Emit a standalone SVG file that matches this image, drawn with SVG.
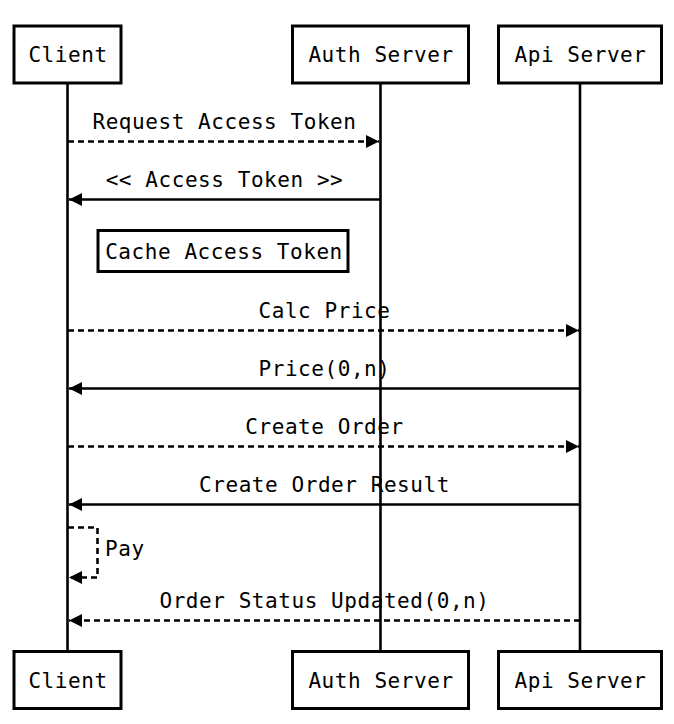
<svg xmlns="http://www.w3.org/2000/svg" width="674" height="724" viewBox="0 0 674 724">
<style>
.box{fill:#fff;stroke:#000;stroke-width:3}
.life{stroke:#000;stroke-width:2.6;fill:none}
.msg{stroke:#000;stroke-width:2.6;fill:none}
.dash{stroke-dasharray:6,4}
text{font-family:"DejaVu Sans Mono","Liberation Mono",monospace;font-size:21px;letter-spacing:0.56px;fill:#000}
.c{text-anchor:middle}
</style>
<defs>
<marker id="ah" markerUnits="userSpaceOnUse" markerWidth="14" markerHeight="14" refX="13" refY="6.5" orient="auto">
<path d="M0,0 L13,6.5 L0,13 Z" fill="#000" stroke="none"/>
</marker>
</defs>
<rect width="674" height="724" fill="#fff"/>
<g id="lifelines">
<line class="life" x1="67.5" y1="84" x2="67.5" y2="651"/>
<line class="life" x1="380.5" y1="84" x2="380.5" y2="651"/>
<line class="life" x1="580" y1="84" x2="580" y2="651"/>
</g>
<g id="client-top"><rect class="box" x="14" y="26" width="107" height="57"/><text class="c" x="68" y="62">Client</text></g>
<g id="auth-top"><rect class="box" x="292.5" y="26" width="176" height="57"/><text class="c" x="381" y="62">Auth Server</text></g>
<g id="api-top"><rect class="box" x="498.5" y="26" width="163" height="57"/><text class="c" x="580.5" y="62">Api Server</text></g>
<g id="client-bottom"><rect class="box" x="14" y="651.5" width="107" height="57"/><text class="c" x="68" y="688">Client</text></g>
<g id="auth-bottom"><rect class="box" x="292.5" y="651.5" width="176" height="57"/><text class="c" x="381" y="688">Auth Server</text></g>
<g id="api-bottom"><rect class="box" x="498.5" y="651.5" width="163" height="57"/><text class="c" x="580.5" y="688">Api Server</text></g>
<g id="note"><rect class="box" x="98" y="230.5" width="250" height="41"/><text class="c" x="224" y="259">Cache Access Token</text></g>
<g id="connectors">
<line class="msg dash" x1="68" y1="141.5" x2="379" y2="141.5" marker-end="url(#ah)"/>
<line class="msg" x1="380" y1="199.5" x2="69" y2="199.5" marker-end="url(#ah)"/>
<line class="msg dash" x1="68" y1="330.5" x2="579" y2="330.5" marker-end="url(#ah)"/>
<line class="msg" x1="580" y1="388.5" x2="69" y2="388.5" marker-end="url(#ah)"/>
<line class="msg dash" x1="68" y1="446.5" x2="579" y2="446.5" marker-end="url(#ah)"/>
<line class="msg" x1="580" y1="504.5" x2="69" y2="504.5" marker-end="url(#ah)"/>
<path class="msg dash" d="M68,527.5 H97.5 V577.5 H69" marker-end="url(#ah)"/>
<line class="msg dash" x1="580" y1="620.5" x2="69" y2="620.5" marker-end="url(#ah)"/>
</g>
<g id="labels">
<text class="c" x="224.5" y="129">Request Access Token</text>
<text class="c" x="224.5" y="187">&lt;&lt; Access Token &gt;&gt;</text>
<text class="c" x="324.5" y="318">Calc Price</text>
<text class="c" x="324.5" y="376">Price(0,n)</text>
<text class="c" x="324.5" y="434">Create Order</text>
<text class="c" x="324.5" y="492">Create Order Result</text>
<text x="105" y="556">Pay</text>
<text class="c" x="324.5" y="608">Order Status Updated(0,n)</text>
</g>
</svg>
